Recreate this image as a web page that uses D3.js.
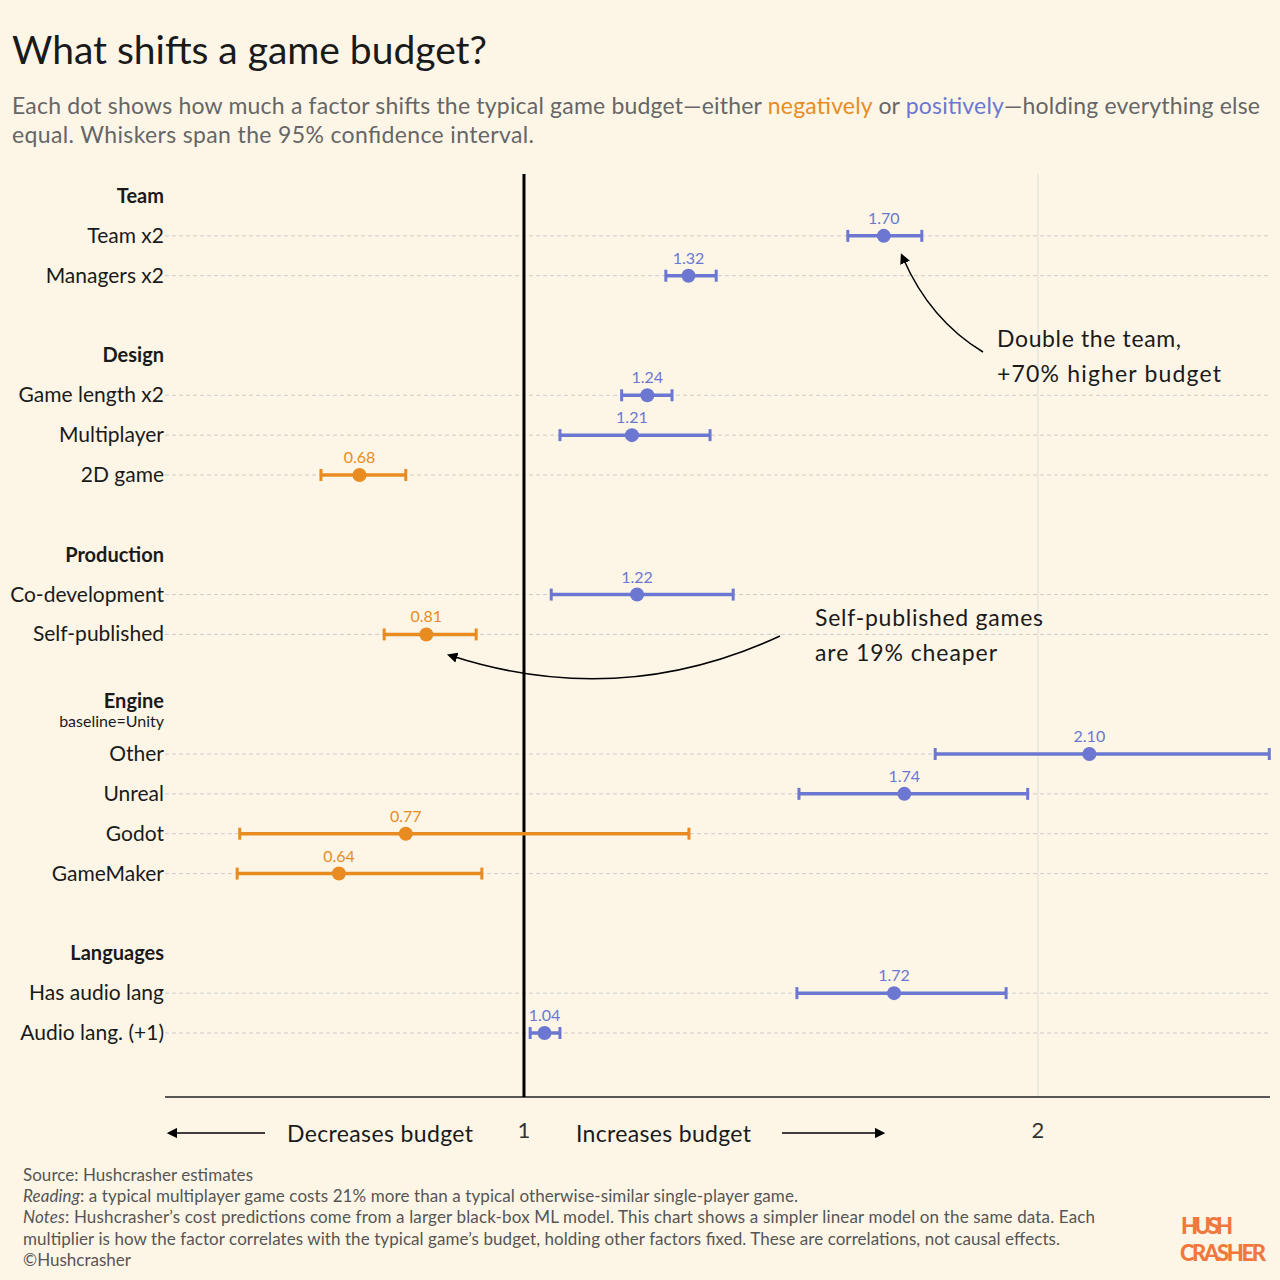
<!DOCTYPE html>
<html><head><meta charset="utf-8">
<script src="https://cdn.jsdelivr.net/npm/d3@7"></script>
<style>body{margin:0;background:#fdf6e7;}svg{font-family:Lato,"Open Sans",sans-serif;}</style>
</head><body><svg id="c" width="1280" height="1280"></svg>
<script>
const groups = ["Team","Design","Production","Engine","Languages"];
const groupSlots = [0,4,9,13,19];
const labels = ["Team x2","Managers x2","Game length x2","Multiplayer","2D game","Co-development","Self-published","Other","Unreal","Godot","GameMaker","Has audio lang","Audio lang. (+1)"];
const slots = [1,2,5,6,7,10,11,14,15,16,17,20,21];
const estimates = [1.70,1.32,1.24,1.21,0.68,1.22,0.81,2.10,1.74,0.77,0.64,1.72,1.04];
const lower = [1.63,1.276,1.19,1.07,0.605,1.053,0.728,1.80,1.535,0.447,0.442,1.531,1.012];
const upper = [1.774,1.374,1.288,1.362,0.770,1.407,0.907,2.45,1.98,1.321,0.918,1.938,1.07];
const xTicks = [1,2];

const svg = d3.select("#c");
const BLUE="#6b77d0", ORANGE="#e88c22", TXT="#1a1a1a";
svg.append("rect").attr("width",1280).attr("height",1280).attr("fill","#fdf6e7");
const x = d3.scaleLinear().domain([0.3016,2.4514]).range([165,1270]);
const y = d3.scaleLinear().domain([0,21]).range([196,1033]);

svg.append("text").attr("x",12).attr("y",64).attr("font-size",39).attr("fill",TXT).attr("textLength",475).text("What shifts a game budget?");
const sub = svg.append("text").attr("x",12).attr("y",114).attr("font-size",23).attr("fill","#666").attr("textLength",1248);
sub.append("tspan").text("Each dot shows how much a factor shifts the typical game budget—either ");
sub.append("tspan").attr("fill",ORANGE).text("negatively");
sub.append("tspan").text(" or ");
sub.append("tspan").attr("fill",BLUE).text("positively");
sub.append("tspan").text("—holding everything else");
svg.append("text").attr("x",12).attr("y",143).attr("font-size",23).attr("fill","#666").attr("textLength",522).text("equal. Whiskers span the 95% confidence interval.");

slots.forEach(s=>svg.append("line").attr("x1",165).attr("x2",1270).attr("y1",y(s)).attr("y2",y(s)).attr("stroke","#ccc").attr("stroke-dasharray","4,3"));
svg.append("line").attr("x1",x(2)).attr("x2",x(2)).attr("y1",174).attr("y2",1097).attr("stroke","#ddd");
svg.append("line").attr("x1",165).attr("x2",1270).attr("y1",1097).attr("y2",1097).attr("stroke","#222").attr("stroke-width",1.5);
svg.append("line").attr("x1",x(1)).attr("x2",x(1)).attr("y1",174).attr("y2",1097).attr("stroke","#000").attr("stroke-width",3);
xTicks.forEach(t=>svg.append("text").attr("x",x(t)).attr("y",1138).attr("text-anchor","middle").attr("font-size",22).attr("fill","#333").text(t));

groups.forEach((g,i)=>svg.append("text").attr("x",164).attr("y",y(groupSlots[i])+7-(g==="Engine"?13:0)).attr("text-anchor","end").attr("font-size",20).attr("font-weight","bold").attr("fill",TXT).text(g));
svg.append("text").attr("x",164).attr("y",727).attr("text-anchor","end").attr("font-size",16).attr("fill",TXT).text("baseline=Unity");
labels.forEach((l,i)=>svg.append("text").attr("x",164).attr("y",y(slots[i])+7).attr("text-anchor","end").attr("font-size",21).attr("fill",TXT).text(l));

estimates.forEach((e,i)=>{
  const c = e<1?ORANGE:BLUE, yy=y(slots[i]);
  const g=svg.append("g").attr("stroke",c).attr("stroke-width",3.5);
  g.append("line").attr("x1",x(lower[i])).attr("x2",x(upper[i])).attr("y1",yy).attr("y2",yy);
  [lower[i],upper[i]].forEach(v=>g.append("line").attr("x1",x(v)).attr("x2",x(v)).attr("y1",yy-6).attr("y2",yy+6).attr("stroke-width",3));
  svg.append("circle").attr("cx",x(e)).attr("cy",yy).attr("r",7).attr("fill",c);
  svg.append("text").attr("x",x(e)).attr("y",yy-12).attr("text-anchor","middle").attr("font-size",16).attr("fill",c).text(e.toFixed(2));
});

const defs=svg.append("defs");
defs.append("marker").attr("id","ah").attr("viewBox","0 0 10 10").attr("refX",5).attr("refY",5).attr("markerWidth",7).attr("markerHeight",7).attr("orient","auto")
  .append("path").attr("d","M0,0L10,5L0,10z").attr("fill","#000");
svg.append("path").attr("d","M983,352 Q930,320 903,258").attr("fill","none").attr("stroke","#000").attr("stroke-width",1.5).attr("marker-end","url(#ah)");
svg.append("path").attr("d","M780,636 Q620,710 452,656").attr("fill","none").attr("stroke","#000").attr("stroke-width",1.5).attr("marker-end","url(#ah)");
[["Double the team,",997,347,184],["+70% higher budget",997,382,224],["Self-published games",815,626,228],["are 19% cheaper",815,661,182]].forEach(([t,xx,yy,w])=>
  svg.append("text").attr("x",xx).attr("y",yy).attr("font-size",23).attr("fill",TXT).attr("textLength",w).text(t));

svg.append("line").attr("x1",265).attr("x2",172).attr("y1",1133).attr("y2",1133).attr("stroke","#000").attr("stroke-width",1.5).attr("marker-end","url(#ah)");
svg.append("line").attr("x1",782).attr("x2",880).attr("y1",1133).attr("y2",1133).attr("stroke","#000").attr("stroke-width",1.5).attr("marker-end","url(#ah)");
svg.append("text").attr("x",287).attr("y",1142).attr("font-size",23).attr("fill",TXT).attr("textLength",186).text("Decreases budget");
svg.append("text").attr("x",576).attr("y",1142).attr("font-size",23).attr("fill",TXT).attr("textLength",175).text("Increases budget");

const f=[["Source: Hushcrasher estimates",null,230],["Reading",": a typical multiplayer game costs 21% more than a typical otherwise-similar single-player game.",775],["Notes",": Hushcrasher’s cost predictions come from a larger black-box ML model. This chart shows a simpler linear model on the same data. Each",1072],["multiplier is how the factor correlates with the typical game’s budget, holding other factors fixed. These are correlations, not causal effects.",null,1037],["©Hushcrasher",null,108]];
f.forEach((r,i)=>{
  const t=svg.append("text").attr("x",23).attr("y",1181+i*21.2).attr("font-size",17).attr("fill","#555").attr("textLength",r[2]);
  if(r[1]){t.append("tspan").attr("font-style","italic").text(r[0]);t.append("tspan").text(r[1]);} else t.text(r[0]);
});
svg.append("text").attr("x",1181).attr("y",1234).attr("font-size",22).attr("font-weight","900").attr("fill","#f0783c").attr("textLength",52).text("HUSH");
svg.append("text").attr("x",1180).attr("y",1261).attr("font-size",22).attr("font-weight","900").attr("fill","#f0783c").attr("textLength",86).text("CRASHER");
</script></body></html>
